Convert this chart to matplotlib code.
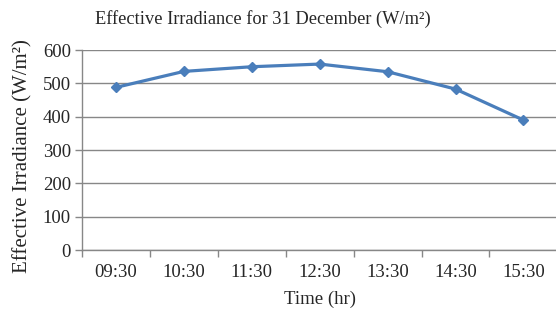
import matplotlib
matplotlib.use("Agg")
import matplotlib.pyplot as plt
import numpy as np

# data
waktu = ["09:30", "10:30", "11:30", "12:30", "13:30", "14:30", "15:30"]
irradiance = [488, 536, 550, 558, 535, 483, 390]
y_ticks = [0, 100, 200, 300, 400, 500, 600]

WARNA_GARIS = "#4A7EBB"
WARNA_GRID = "#878787"

plt.rcParams["font.family"] = ["Liberation Serif", "DejaVu Serif"]

fig = plt.figure(figsize=(5.56, 3.11), dpi=100)
fig.patch.set_facecolor("#FFFFFF")
ax = fig.add_axes([0.1475, 0.196, 0.855, 0.643])

x = np.arange(len(waktu))
ax.plot(x, irradiance, color=WARNA_GARIS, linewidth=2.3,
        marker="D", markersize=5.5, markeredgecolor=WARNA_GARIS,
        markerfacecolor=WARNA_GARIS, zorder=3)

ax.set_xlim(-0.5, len(waktu) - 0.5)
ax.set_ylim(0, 600)
ax.set_yticks(y_ticks)
ax.set_xticks(x)
ax.set_xticklabels(waktu)
ax.set_xticks(np.arange(-0.5, len(waktu), 1), minor=True)
ax.tick_params(axis="x", which="major", length=0, labelsize=13.5,
               pad=10, colors="#262626")
ax.tick_params(axis="x", which="minor", length=5, width=1, color=WARNA_GRID,
               direction="out")
ax.tick_params(axis="y", length=5, width=1, color=WARNA_GRID,
               labelsize=13.5, pad=3, labelcolor="#262626")

ax.grid(axis="y", color=WARNA_GRID, linewidth=1)
ax.set_axisbelow(True)
for s in ["top", "right"]:
    ax.spines[s].set_visible(False)
for s in ["left", "bottom"]:
    ax.spines[s].set_color(WARNA_GRID)
    ax.spines[s].set_linewidth(1)

ax.set_xlabel("Time (hr)", fontsize=13.5, color="#262626", labelpad=7)
ax.set_ylabel("Effective Irradiance (W/m²)", fontsize=15, color="#262626")
ax.yaxis.set_label_coords(-0.104, 0.47)
fig.text(0.473, 0.94, "Effective Irradiance for 31 December (W/m²)",
         ha="center", va="center", fontsize=13.2, color="#262626")

fig.savefig("out.png", dpi=100)
